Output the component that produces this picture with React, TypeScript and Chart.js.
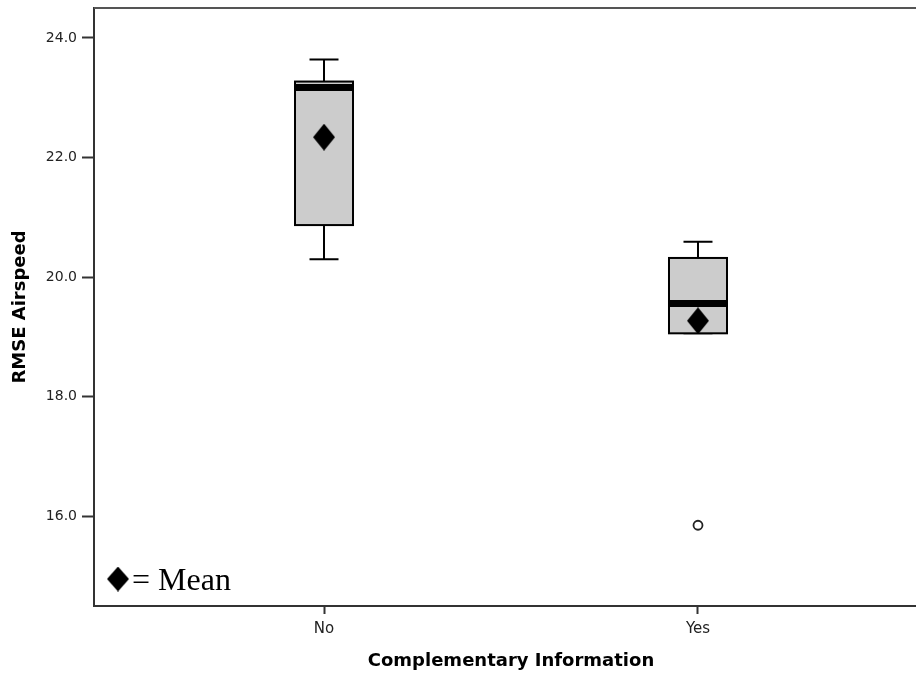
import { useEffect, useRef } from "react";
import { Chart, registerables } from "chart.js";

Chart.register(...registerables);

// Box plot summary per group
const categories = ["No", "Yes"];
const whiskerLow = [20.3, 19.06];
const q1 = [20.87, 19.06];
const median = [23.17, 19.56];
const q3 = [23.27, 20.32];
const whiskerHigh = [23.64, 20.59];
const means = [22.34, 19.27];

// Outliers: group index and value
const outlierGroups = [1];
const outlierValues = [15.85];

const yTicks = [16, 18, 20, 22, 24];

function makeDiamond(w: number, h: number): HTMLCanvasElement {
  const c = document.createElement("canvas");
  c.width = w;
  c.height = h;
  const g = c.getContext("2d")!;
  g.fillStyle = "#000";
  g.beginPath();
  g.moveTo(w / 2, 0);
  g.lineTo(w, h / 2);
  g.lineTo(w / 2, h);
  g.lineTo(0, h / 2);
  g.closePath();
  g.fill();
  return c;
}

export default function App() {
  const canvasRef = useRef<HTMLCanvasElement | null>(null);

  useEffect(() => {
    const canvas = canvasRef.current;
    if (!canvas) return;
    const diamond = makeDiamond(22, 27);
    const legendDiamond = makeDiamond(22, 25);

    const boxPlot = {
      id: "boxPlot",
      beforeDatasetsDraw(chart: any) {
        const { ctx, chartArea, scales } = chart;
        const x = scales.x;
        const y = scales.y;
        ctx.save();
        // top frame line
        ctx.strokeStyle = "#555";
        ctx.lineWidth = 2;
        ctx.beginPath();
        ctx.moveTo(chartArea.left, chartArea.top);
        ctx.lineTo(chartArea.right, chartArea.top);
        ctx.stroke();

        const halfBox = 29;
        const halfCap = 14.5;
        categories.forEach((_, i) => {
          const cx = x.getPixelForValue(i);
          const yWl = y.getPixelForValue(whiskerLow[i]);
          const yQ1 = y.getPixelForValue(q1[i]);
          const yMed = y.getPixelForValue(median[i]);
          const yQ3 = y.getPixelForValue(q3[i]);
          const yWh = y.getPixelForValue(whiskerHigh[i]);

          ctx.strokeStyle = "#000";
          ctx.lineWidth = 2;
          ctx.beginPath();
          ctx.moveTo(cx, yWh);
          ctx.lineTo(cx, yQ3);
          ctx.moveTo(cx, yQ1);
          ctx.lineTo(cx, yWl);
          ctx.moveTo(cx - halfCap, yWh);
          ctx.lineTo(cx + halfCap, yWh);
          ctx.moveTo(cx - halfCap, yWl);
          ctx.lineTo(cx + halfCap, yWl);
          ctx.stroke();

          ctx.fillStyle = "#cccccc";
          ctx.fillRect(cx - halfBox, yQ3, halfBox * 2, yQ1 - yQ3);
          ctx.lineWidth = 2;
          ctx.strokeRect(cx - halfBox, yQ3, halfBox * 2, yQ1 - yQ3);

          ctx.lineWidth = 7;
          ctx.beginPath();
          ctx.moveTo(cx - halfBox - 1, yMed);
          ctx.lineTo(cx + halfBox + 1, yMed);
          ctx.stroke();
        });
        ctx.restore();
      },
      afterDraw(chart: any) {
        const { ctx, chartArea } = chart;
        ctx.save();
        ctx.drawImage(
          legendDiamond,
          chartArea.left + 24 - legendDiamond.width / 2,
          chartArea.bottom - 27 - legendDiamond.height / 2
        );
        ctx.fillStyle = "#000";
        ctx.font = "32px 'Liberation Serif', 'Times New Roman', serif";
        ctx.textBaseline = "alphabetic";
        ctx.textAlign = "left";
        ctx.fillText("= Mean", chartArea.left + 38, chartArea.bottom - 16);
        ctx.restore();
      },
    };

    const chart = new Chart(canvas, {
      type: "scatter",
      data: {
        datasets: [
          {
            label: "Mean",
            data: means.map((v, i) => ({ x: i, y: v })),
            pointStyle: diamond as any,
            pointRadius: 11,
          },
          {
            label: "Outliers",
            data: outlierValues.map((v, i) => ({ x: outlierGroups[i], y: v })),
            pointStyle: "circle",
            pointRadius: 4.5,
            borderWidth: 1.8,
            borderColor: "#222",
            backgroundColor: "#fff",
          },
        ],
      },
      options: {
        animation: false,
        responsive: false,
        devicePixelRatio: 1,
        layout: {
          autoPadding: false,
          padding: { left: 0, top: 8, right: 2, bottom: 0 },
        },
        plugins: {
          legend: { display: false },
          tooltip: { enabled: false },
        },
        scales: {
          x: {
            type: "linear",
            min: -0.615,
            max: 1.615,
            afterBuildTicks: (s: any) => {
              s.ticks = categories.map((_, i) => ({ value: i }));
            },
            afterFit: (s: any) => {
              s.height = 67;
              s.paddingLeft = 0;
              s.paddingRight = 0;
            },
            ticks: {
              callback: (v: any) => categories[Number(v)] ?? "",
              font: { family: "DejaVu Sans", size: 15 },
              color: "#222",
              padding: 6,
              maxRotation: 0,
              autoSkip: false,
            },
            grid: {
              drawOnChartArea: false,
              tickLength: 8,
              tickWidth: 2,
              tickColor: "#333",
            },
            border: { color: "#333", width: 2 },
            title: {
              display: true,
              text: "Complementary Information",
              font: { family: "DejaVu Sans", size: 18, weight: "bold" },
              color: "#000",
              padding: { top: 0, bottom: 1 },
            },
          },
          y: {
            type: "linear",
            min: 14.5,
            max: 24.5,
            afterBuildTicks: (s: any) => {
              s.ticks = yTicks.map((v) => ({ value: v }));
            },
            afterFit: (s: any) => {
              s.width = 94;
              s.paddingTop = 0;
              s.paddingBottom = 0;
            },
            ticks: {
              callback: (v: any) => Number(v).toFixed(1),
              font: { family: "DejaVu Sans", size: 14 },
              color: "#222",
              padding: 5,
            },
            grid: {
              drawOnChartArea: false,
              tickLength: 12,
              tickWidth: 2,
              tickColor: "#333",
            },
            border: { color: "#333", width: 2 },
            title: {
              display: true,
              text: "RMSE Airspeed",
              font: { family: "DejaVu Sans", size: 18, weight: "bold" },
              color: "#000",
              padding: { top: 10, bottom: 0 },
            },
          },
        },
      },
      plugins: [boxPlot],
    });

    return () => chart.destroy();
  }, []);

  return (
    <div
      style={{
        position: "fixed",
        left: 0,
        top: 0,
        width: 916,
        height: 673,
        overflow: "hidden",
        background: "#fff",
      }}
    >
      <div style={{ width: 930, height: 673 }}>
        <canvas
          ref={canvasRef}
          width={930}
          height={673}
          style={{ width: 930, height: 673, display: "block" }}
        />
      </div>
    </div>
  );
}
